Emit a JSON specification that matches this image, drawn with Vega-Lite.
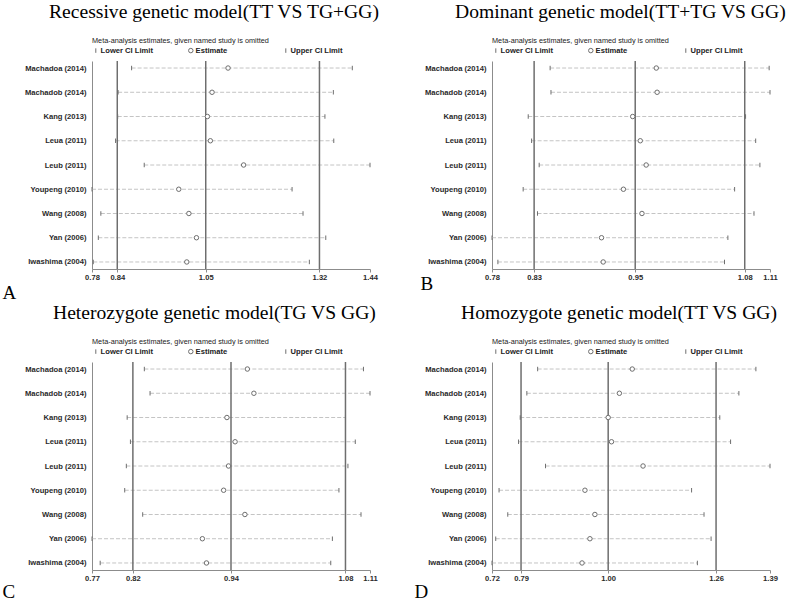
{
  "$schema": "https://vega.github.io/schema/vega-lite/v6.json",
  "background": "white",
  "padding": {"left": 2, "top": 2, "right": 2, "bottom": 2},
  "columns": 2,
  "bounds": "flush",
  "spacing": {"column": 122, "row": 93},
  "config": {
    "view": {"stroke": null},
    "font": "Liberation Sans",
    "axis": {"grid": false, "domainColor": "#8c8c8c", "tickColor": "#8c8c8c", "labelFont": "Liberation Sans", "labelFontSize": 7.6, "labelFontWeight": "bold", "labelColor": "#2a2a2a"},
    "axisX": {"tickSize": 3, "labelPadding": 1, "labelFlush": false, "labelOverlap": false, "titleFont": "Liberation Serif", "titleFontSize": 19, "titleFontWeight": "normal", "titleAlign": "left", "titleBaseline": "alphabetic", "titleColor": "#000000"},
    "axisY": {"ticks": false, "labelPadding": 6},
    "legend": {"orient": "top", "direction": "horizontal", "columns": 3, "gridAlign": "all", "columnPadding": 33, "labelOffset": 1, "titlePadding": 2, "offset": 6, "padding": 0, "titleFont": "Liberation Sans", "titleFontSize": 7.3, "titleFontWeight": "normal", "titleColor": "#222222", "titleLimit": 400, "labelFont": "Liberation Sans", "labelFontSize": 7.6, "labelFontWeight": "bold", "labelColor": "#222222", "symbolSize": 20, "symbolStrokeWidth": 1},
    "title": {"font": "Liberation Serif", "fontSize": 19.6, "fontWeight": "normal", "anchor": "start", "frame": "group", "color": "#000000", "offset": 14}
  },
  "datasets": {
    "A": [
      {"study": "Machadoa (2014)", "Lower CI Limit": 0.874, "Estimate": 1.103, "Upper CI Limit": 1.398},
      {"study": "Machadob (2014)", "Lower CI Limit": 0.842, "Estimate": 1.065, "Upper CI Limit": 1.353},
      {"study": "Kang (2013)", "Lower CI Limit": 0.841, "Estimate": 1.054, "Upper CI Limit": 1.333},
      {"study": "Leua (2011)", "Lower CI Limit": 0.836, "Estimate": 1.061, "Upper CI Limit": 1.354},
      {"study": "Leub (2011)", "Lower CI Limit": 0.904, "Estimate": 1.140, "Upper CI Limit": 1.440},
      {"study": "Youpeng (2010)", "Lower CI Limit": 0.780, "Estimate": 0.986, "Upper CI Limit": 1.255},
      {"study": "Wang (2008)", "Lower CI Limit": 0.801, "Estimate": 1.010, "Upper CI Limit": 1.281},
      {"study": "Yan (2006)", "Lower CI Limit": 0.795, "Estimate": 1.028, "Upper CI Limit": 1.335},
      {"study": "Iwashima (2004)", "Lower CI Limit": 0.783, "Estimate": 1.005, "Upper CI Limit": 1.296}
    ],
    "B": [
      {"study": "Machadoa (2014)", "Lower CI Limit": 0.849, "Estimate": 0.975, "Upper CI Limit": 1.109},
      {"study": "Machadob (2014)", "Lower CI Limit": 0.850, "Estimate": 0.976, "Upper CI Limit": 1.110},
      {"study": "Kang (2013)", "Lower CI Limit": 0.823, "Estimate": 0.947, "Upper CI Limit": 1.081},
      {"study": "Leua (2011)", "Lower CI Limit": 0.827, "Estimate": 0.956, "Upper CI Limit": 1.093},
      {"study": "Leub (2011)", "Lower CI Limit": 0.836, "Estimate": 0.963, "Upper CI Limit": 1.098},
      {"study": "Youpeng (2010)", "Lower CI Limit": 0.817, "Estimate": 0.936, "Upper CI Limit": 1.068},
      {"study": "Wang (2008)", "Lower CI Limit": 0.834, "Estimate": 0.958, "Upper CI Limit": 1.091},
      {"study": "Yan (2006)", "Lower CI Limit": 0.780, "Estimate": 0.910, "Upper CI Limit": 1.060},
      {"study": "Iwashima (2004)", "Lower CI Limit": 0.787, "Estimate": 0.912, "Upper CI Limit": 1.056}
    ],
    "C": [
      {"study": "Machadoa (2014)", "Lower CI Limit": 0.834, "Estimate": 0.960, "Upper CI Limit": 1.102},
      {"study": "Machadob (2014)", "Lower CI Limit": 0.841, "Estimate": 0.968, "Upper CI Limit": 1.110},
      {"study": "Kang (2013)", "Lower CI Limit": 0.813, "Estimate": 0.935, "Upper CI Limit": 1.080},
      {"study": "Leua (2011)", "Lower CI Limit": 0.817, "Estimate": 0.945, "Upper CI Limit": 1.092},
      {"study": "Leub (2011)", "Lower CI Limit": 0.812, "Estimate": 0.937, "Upper CI Limit": 1.083},
      {"study": "Youpeng (2010)", "Lower CI Limit": 0.810, "Estimate": 0.931, "Upper CI Limit": 1.072},
      {"study": "Wang (2008)", "Lower CI Limit": 0.832, "Estimate": 0.957, "Upper CI Limit": 1.099},
      {"study": "Yan (2006)", "Lower CI Limit": 0.770, "Estimate": 0.905, "Upper CI Limit": 1.064},
      {"study": "Iwashima (2004)", "Lower CI Limit": 0.780, "Estimate": 0.910, "Upper CI Limit": 1.062}
    ],
    "D": [
      {"study": "Machadoa (2014)", "Lower CI Limit": 0.830, "Estimate": 1.058, "Upper CI Limit": 1.356},
      {"study": "Machadob (2014)", "Lower CI Limit": 0.804, "Estimate": 1.027, "Upper CI Limit": 1.315},
      {"study": "Kang (2013)", "Lower CI Limit": 0.788, "Estimate": 1.000, "Upper CI Limit": 1.269},
      {"study": "Leua (2011)", "Lower CI Limit": 0.784, "Estimate": 1.008, "Upper CI Limit": 1.295},
      {"study": "Leub (2011)", "Lower CI Limit": 0.849, "Estimate": 1.084, "Upper CI Limit": 1.390},
      {"study": "Youpeng (2010)", "Lower CI Limit": 0.737, "Estimate": 0.944, "Upper CI Limit": 1.201},
      {"study": "Wang (2008)", "Lower CI Limit": 0.758, "Estimate": 0.968, "Upper CI Limit": 1.231},
      {"study": "Yan (2006)", "Lower CI Limit": 0.729, "Estimate": 0.956, "Upper CI Limit": 1.248},
      {"study": "Iwashima (2004)", "Lower CI Limit": 0.720, "Estimate": 0.937, "Upper CI Limit": 1.215}
    ]
  },
  "concat": [
    {
      "width": 278, "height": 208,
      "title": {"text": "Recessive genetic model(TT VS TG+GG)", "dx": -43},
      "layer": [
        {
          "data": {"name": "A"},
          "mark": {"type": "rule", "color": "#c4c4c4", "strokeWidth": 1, "strokeDash": [4, 2]},
          "encoding": {
            "y": {"field": "study", "type": "nominal", "sort": null, "scale": {"type": "point", "padding": 0.29}, "axis": {"title": null}},
            "x": {"field": "Lower CI Limit", "type": "quantitative", "scale": {"domain": [0.78, 1.44], "nice": false, "zero": false}, "axis": {"values": [0.78, 0.84, 1.05, 1.32, 1.44], "format": ".2f", "title": "A", "titleX": -90, "titleY": 29}},
            "x2": {"field": "Upper CI Limit"}
          }
        },
        {
          "data": {"values": [{"overall": 0.84}, {"overall": 1.05}, {"overall": 1.32}]},
          "mark": {"type": "rule", "color": "#6e6e6e", "strokeWidth": 1.5},
          "encoding": {"x": {"field": "overall", "type": "quantitative"}}
        },
        {
          "data": {"name": "A"},
          "transform": [{"fold": ["Lower CI Limit", "Estimate", "Upper CI Limit"], "as": ["role", "value"]}],
          "mark": {"type": "point", "fill": "white", "stroke": "#6e6e6e", "strokeWidth": 1, "size": 20, "opacity": 1},
          "encoding": {
            "y": {"field": "study", "type": "nominal", "sort": null},
            "x": {"field": "value", "type": "quantitative"},
            "shape": {"field": "role", "type": "nominal", "scale": {"domain": ["Lower CI Limit", "Estimate", "Upper CI Limit"], "range": ["M0,-1L0,1", "circle", "M0,-1L0,1"]}, "legend": {"title": "Meta-analysis estimates, given named study is omitted"}}
          }
        }
      ]
    },
    {
      "width": 278, "height": 208,
      "title": {"text": "Dominant genetic model(TT+TG VS GG)", "dx": -37},
      "layer": [
        {
          "data": {"name": "B"},
          "mark": {"type": "rule", "color": "#c4c4c4", "strokeWidth": 1, "strokeDash": [4, 2]},
          "encoding": {
            "y": {"field": "study", "type": "nominal", "sort": null, "scale": {"type": "point", "padding": 0.29}, "axis": {"title": null}},
            "x": {"field": "Lower CI Limit", "type": "quantitative", "scale": {"domain": [0.78, 1.11], "nice": false, "zero": false}, "axis": {"values": [0.78, 0.83, 0.95, 1.08, 1.11], "format": ".2f", "title": "B", "titleX": -72, "titleY": 20}},
            "x2": {"field": "Upper CI Limit"}
          }
        },
        {
          "data": {"values": [{"overall": 0.83}, {"overall": 0.95}, {"overall": 1.08}]},
          "mark": {"type": "rule", "color": "#6e6e6e", "strokeWidth": 1.5},
          "encoding": {"x": {"field": "overall", "type": "quantitative"}}
        },
        {
          "data": {"name": "B"},
          "transform": [{"fold": ["Lower CI Limit", "Estimate", "Upper CI Limit"], "as": ["role", "value"]}],
          "mark": {"type": "point", "fill": "white", "stroke": "#6e6e6e", "strokeWidth": 1, "size": 20, "opacity": 1},
          "encoding": {
            "y": {"field": "study", "type": "nominal", "sort": null},
            "x": {"field": "value", "type": "quantitative"},
            "shape": {"field": "role", "type": "nominal", "scale": {"domain": ["Lower CI Limit", "Estimate", "Upper CI Limit"], "range": ["M0,-1L0,1", "circle", "M0,-1L0,1"]}, "legend": {"title": "Meta-analysis estimates, given named study is omitted"}}
          }
        }
      ]
    },
    {
      "width": 278, "height": 208,
      "title": {"text": "Heterozygote genetic model(TG VS GG)", "dx": -39},
      "layer": [
        {
          "data": {"name": "C"},
          "mark": {"type": "rule", "color": "#c4c4c4", "strokeWidth": 1, "strokeDash": [4, 2]},
          "encoding": {
            "y": {"field": "study", "type": "nominal", "sort": null, "scale": {"type": "point", "padding": 0.29}, "axis": {"title": null}},
            "x": {"field": "Lower CI Limit", "type": "quantitative", "scale": {"domain": [0.77, 1.11], "nice": false, "zero": false}, "axis": {"values": [0.77, 0.82, 0.94, 1.08, 1.11], "format": ".2f", "title": "C", "titleX": -90, "titleY": 27}},
            "x2": {"field": "Upper CI Limit"}
          }
        },
        {
          "data": {"values": [{"overall": 0.82}, {"overall": 0.94}, {"overall": 1.08}]},
          "mark": {"type": "rule", "color": "#6e6e6e", "strokeWidth": 1.5},
          "encoding": {"x": {"field": "overall", "type": "quantitative"}}
        },
        {
          "data": {"name": "C"},
          "transform": [{"fold": ["Lower CI Limit", "Estimate", "Upper CI Limit"], "as": ["role", "value"]}],
          "mark": {"type": "point", "fill": "white", "stroke": "#6e6e6e", "strokeWidth": 1, "size": 20, "opacity": 1},
          "encoding": {
            "y": {"field": "study", "type": "nominal", "sort": null},
            "x": {"field": "value", "type": "quantitative"},
            "shape": {"field": "role", "type": "nominal", "scale": {"domain": ["Lower CI Limit", "Estimate", "Upper CI Limit"], "range": ["M0,-1L0,1", "circle", "M0,-1L0,1"]}, "legend": {"title": "Meta-analysis estimates, given named study is omitted"}}
          }
        }
      ]
    },
    {
      "width": 278, "height": 208,
      "title": {"text": "Homozygote genetic model(TT VS GG)", "dx": -31},
      "layer": [
        {
          "data": {"name": "D"},
          "mark": {"type": "rule", "color": "#c4c4c4", "strokeWidth": 1, "strokeDash": [4, 2]},
          "encoding": {
            "y": {"field": "study", "type": "nominal", "sort": null, "scale": {"type": "point", "padding": 0.29}, "axis": {"title": null}},
            "x": {"field": "Lower CI Limit", "type": "quantitative", "scale": {"domain": [0.72, 1.39], "nice": false, "zero": false}, "axis": {"values": [0.72, 0.79, 1.0, 1.26, 1.39], "format": ".2f", "title": "D", "titleX": -78, "titleY": 27}},
            "x2": {"field": "Upper CI Limit"}
          }
        },
        {
          "data": {"values": [{"overall": 0.79}, {"overall": 1.0}, {"overall": 1.26}]},
          "mark": {"type": "rule", "color": "#6e6e6e", "strokeWidth": 1.5},
          "encoding": {"x": {"field": "overall", "type": "quantitative"}}
        },
        {
          "data": {"name": "D"},
          "transform": [{"fold": ["Lower CI Limit", "Estimate", "Upper CI Limit"], "as": ["role", "value"]}],
          "mark": {"type": "point", "fill": "white", "stroke": "#6e6e6e", "strokeWidth": 1, "size": 20, "opacity": 1},
          "encoding": {
            "y": {"field": "study", "type": "nominal", "sort": null},
            "x": {"field": "value", "type": "quantitative"},
            "shape": {"field": "role", "type": "nominal", "scale": {"domain": ["Lower CI Limit", "Estimate", "Upper CI Limit"], "range": ["M0,-1L0,1", "circle", "M0,-1L0,1"]}, "legend": {"title": "Meta-analysis estimates, given named study is omitted"}}
          }
        }
      ]
    }
  ],
  "resolve": {"scale": {"x": "independent", "y": "independent", "shape": "independent"}, "legend": {"shape": "independent"}}
}
